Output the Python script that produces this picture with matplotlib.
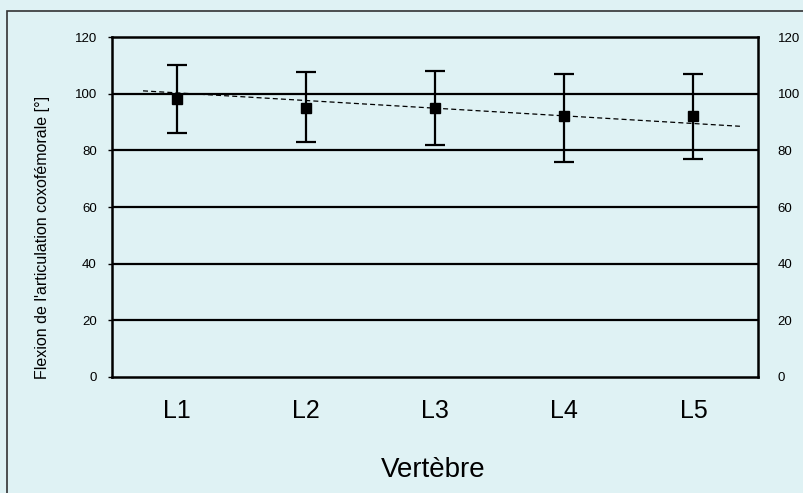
import numpy as np
import matplotlib.pyplot as plt
from matplotlib.patches import Rectangle

vertebrae = ['L1', 'L2', 'L3', 'L4', 'L5']
flexion_mean = [98, 95, 95, 92, 92]
err_upper = [110, 107.5, 108, 107, 107]
err_lower = [86, 83, 82, 76, 77]
trend_x = [0.74, 5.36]
trend_y = [101, 88.5]
yticks = [0, 20, 40, 60, 80, 100, 120]

bg = '#dff2f4'
plt.rcParams['font.family'] = ['Liberation Sans', 'DejaVu Sans']

fig = plt.figure(figsize=(8.04, 4.93), dpi=100, facecolor=bg)
ax = fig.add_axes([0.1393, 0.2353, 0.8035, 0.6896])
ax.set_facecolor(bg)

x = np.arange(1, len(vertebrae) + 1)
mean = np.array(flexion_mean)
yerr = [mean - np.array(err_lower), np.array(err_upper) - mean]

for v in yticks[1:-1]:
    ax.axhline(v, color='black', lw=1.6, zorder=1)

ax.plot(trend_x, trend_y, color='black', lw=0.9, ls=(0, (4, 2.5)), zorder=2)
ax.errorbar(x, mean, yerr=yerr, fmt='s', color='black', ms=7.5,
            elinewidth=1.6, capsize=7, capthick=1.6, zorder=3)

ax.set_xlim(0.5, 5.5)
ax.set_ylim(0, 120)
ax.set_yticks(yticks)
ax.tick_params(axis='y', labelsize=9.5, length=3, width=1, direction='out', pad=8)
ax.set_xticks([])
for s in ax.spines.values():
    s.set_linewidth(1.8)

ax2 = ax.twinx()
ax2.set_ylim(0, 120)
ax2.set_yticks(yticks)
ax2.tick_params(axis='y', labelsize=9.5, length=0, pad=14)
for s in ax2.spines.values():
    s.set_visible(False)

for xi, lab in zip(x, vertebrae):
    ax.text(xi, -12, lab, ha='center', va='center', fontsize=18,
            transform=ax.transData, clip_on=False)

ax.set_ylabel("Flexion de l'articulation coxofémorale [°]", fontsize=11.5)
ax.yaxis.set_label_coords(-0.096, 0.41)
fig.text(0.539, 0.047, 'Vertèbre', ha='center', va='center', fontsize=20)

fig.patches.append(Rectangle((7 / 804, -0.01), 1.0, 1 - 11 / 493 + 0.01,
                             transform=fig.transFigure, fill=False,
                             edgecolor='#333333', lw=1.2))

fig.savefig('out.png', dpi=100, facecolor=bg)
